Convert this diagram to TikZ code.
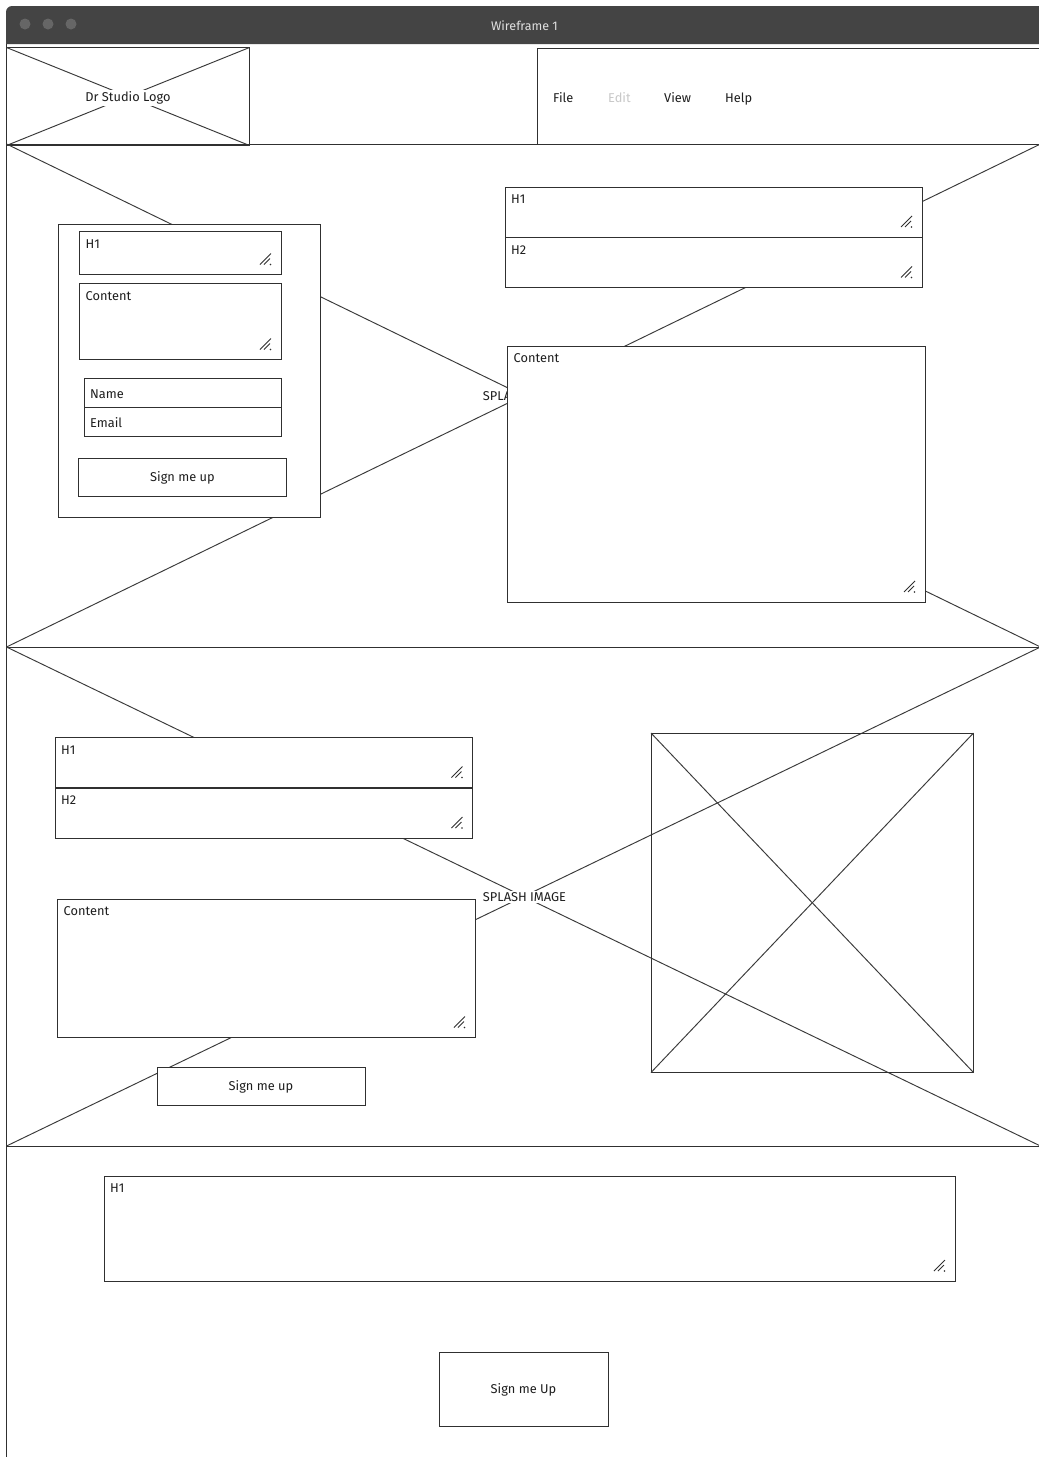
\documentclass[tikz,border=0pt]{standalone}
\usepackage{fontspec}
\setmainfont{Fira Sans}
\usetikzlibrary{calc}
\definecolor{ln}{HTML}{303030}
\definecolor{xc}{HTML}{3A3A3A}
\definecolor{tc}{HTML}{1E1E1E}
\definecolor{bar}{HTML}{444444}
\definecolor{dot}{HTML}{666666}
\definecolor{dim}{HTML}{C8C8C8}
\newcommand\wbox[5]{\node[wb, minimum width=#4pt, minimum height=#5pt] (#1) at (#2,#3) {};}
\newcommand\tlab[2]{\node[lbl] (#1-l) at ($(#1.north west)+(6,7.5)$) {#2};}
\newcommand\rhandle[1]{%
  \draw[hd] ($(#1.south east)+(-21,-10)$) -- ($(#1.south east)+(-10,-21)$);
  \draw[hd] ($(#1.south east)+(-17,-10)$) -- ($(#1.south east)+(-11,-16)$);
  \fill[ln] ($(#1.south east)+(-10.5,-10)$) circle (0.8);}
\newcommand\xcross[1]{%
  \draw[xl] (#1.north west) -- (#1.south east);
  \draw[xl] (#1.south west) -- (#1.north east);}
\begin{document}
\begin{tikzpicture}[x=1pt,y=-1pt,
  font=\fontsize{12.8}{15}\selectfont,
  wb/.style={draw=ln, line width=1pt, fill=white, anchor=north west, inner sep=0pt, outer sep=0pt},
  ph/.style={draw=ln, line width=1pt, anchor=north west, inner sep=0pt, outer sep=0pt},
  xl/.style={draw=xc, line width=0.95pt},
  lbl/.style={anchor=north west, inner sep=0pt, text=tc},
  ctr/.style={inner sep=1.5pt, text=tc},
  hd/.style={draw=ln, line width=0.75pt},
  menu/.style={anchor=base west, inner sep=0pt, text=tc}]
\useasboundingbox (0,0) rectangle (1039,1457);
\fill[white] (0,0) rectangle (1039,1457);
% title bar
\fill[bar] (6,44) [rounded corners=6pt] -- (6,6) -- (1060,6) [sharp corners] -- (1060,44) -- cycle;
\fill[dot] (25,24) circle (5.5);
\fill[dot] (48,24) circle (5.5);
\fill[dot] (71,24) circle (5.5);
\node[inner sep=0pt, text=white!88!black, font=\fontsize{12.5}{14}\selectfont] (title) at (524.5,25.5) {Wireframe 1};
% window left border
\draw[ln, line width=1.5pt] (6.7,44) -- (6.7,1460);
% logo
\node[ph, minimum width=243pt, minimum height=98pt] (logo) at (6.5,47.5) {};
\xcross{logo}
\node[ctr, fill=white] (logo-t) at ($(logo.center)+(0,1.5)$) {Dr Studio Logo};
% menu
\node[ph, minimum width=520pt, minimum height=96pt] (menu) at (537,48.5) {};
\node[menu] (m1) at (553,102) {File};
\node[menu, text=dim] (m2) at (608,102) {Edit};
\node[menu] (m3) at (664,102) {View};
\node[menu] (m4) at (725,102) {Help};
% section 1 splash
\node[ph, minimum width=1034pt, minimum height=503pt] (s1) at (6.5,144) {};
\xcross{s1}
\node[ctr, fill=white] (s1-t) at ($(s1.center)+(1,0.5)$) {SPLASH IMAGE};
% section 2 splash
\node[ph, minimum width=1034pt, minimum height=499pt] (s2) at (6.5,647) {};
\xcross{s2}
\node[ctr, fill=white] (s2-t) at ($(s2.center)+(1,0.5)$) {SPLASH IMAGE};
% section 3
\draw[ln, line width=1pt] (6.5,1146.5) -- (1060,1146.5);
% ---- section 1 widgets
\wbox{form}{58.5}{224}{261.5}{293.5}
\wbox{f-h1}{79.5}{231.5}{201.5}{43}
\tlab{f-h1}{H1}\rhandle{f-h1}
\wbox{f-ct}{79.5}{283.5}{201.5}{76}
\tlab{f-ct}{Content}\rhandle{f-ct}
\wbox{f-nm}{84}{378}{197}{29}
\wbox{f-em}{84}{407}{197}{29}
\node[menu] (f-nm-l) at ($(f-nm.west)+(6,5.5)$) {Name};
\node[menu] (f-em-l) at ($(f-em.west)+(6,5.5)$) {Email};
\wbox{f-bt}{78.5}{458}{208}{38}
\node[ctr] (f-bt-l) at ($(f-bt.center)+(0,1)$) {Sign me up};
\wbox{r-h1}{505}{187}{417}{50}
\tlab{r-h1}{H1}\rhandle{r-h1}
\wbox{r-h2}{505}{237.5}{417}{50}
\tlab{r-h2}{H2}\rhandle{r-h2}
\wbox{r-ct}{507.5}{346}{417.5}{256}
\tlab{r-ct}{Content}\rhandle{r-ct}
% ---- section 2 widgets
\wbox{a-h1}{55}{737.5}{417.5}{50}
\tlab{a-h1}{H1}\rhandle{a-h1}
\wbox{a-h2}{55}{788}{417.5}{50}
\tlab{a-h2}{H2}\rhandle{a-h2}
\wbox{a-ct}{57.5}{899}{417.5}{138.5}
\tlab{a-ct}{Content}\rhandle{a-ct}
\wbox{a-bt}{157}{1067}{208}{38}
\node[ctr] (a-bt-l) at ($(a-bt.center)+(0,1)$) {Sign me up};
\node[ph, minimum width=322.5pt, minimum height=339.5pt] (img) at (651,733) {};
\xcross{img}
% ---- section 3 widgets
\wbox{b-h1}{104}{1176}{851}{105}
\tlab{b-h1}{H1}\rhandle{b-h1}
\wbox{b-bt}{439}{1352}{169}{74}
\node[ctr] (b-bt-l) at ($(b-bt.center)+(0,1)$) {Sign me Up};
\end{tikzpicture}
\end{document}
